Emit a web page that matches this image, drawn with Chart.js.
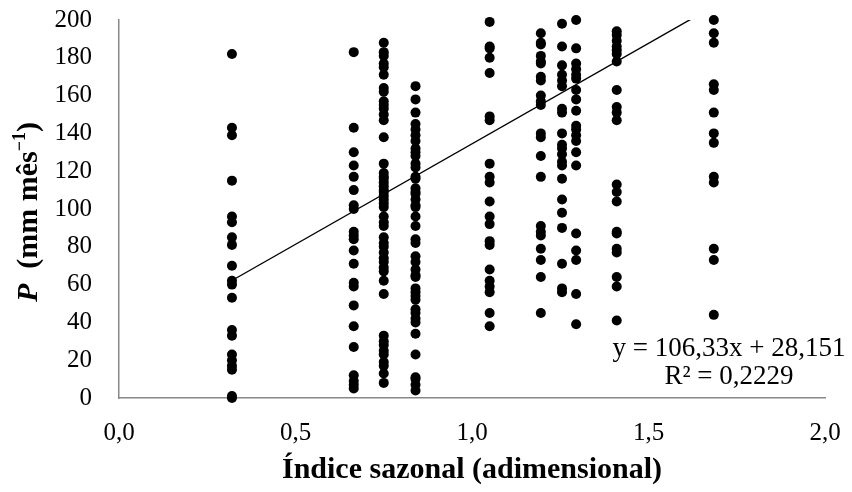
<!DOCTYPE html>
<html>
<head>
<meta charset="utf-8">
<script src="https://cdn.jsdelivr.net/npm/chart.js@4.4.1/dist/chart.umd.min.js"></script>
<style>
  body { margin: 0; background: #fff; }
  #wrap { width: 852px; height: 492px; }
</style>
</head>
<body>
<div id="wrap"><canvas id="chart"></canvas></div>
<script>
// seasonal index of each month group (x) and the rainfall values (P, mm/month) read at it
var colX = [0.32, 0.665, 0.75, 0.84, 1.05, 1.195, 1.255, 1.295, 1.41, 1.685];
var p032  = [182, 143, 139, 115, 96, 93, 85, 81, 70, 62, 60, 53, 36, 33, 23, 20, 17, 15, 1, 0];
var p0665 = [183, 143, 130, 123, 117, 110, 102, 100, 88, 86, 84, 78, 71, 61, 59, 49, 38, 27, 12, 9, 7, 5];
var p075  = [188, 183, 181, 177, 175, 171, 164, 162, 157, 155, 153, 150, 147, 138, 124, 119, 117, 116, 114, 112,
             110, 109, 107, 105, 103, 101, 96, 93, 91, 85, 82, 80, 77, 74, 72, 69, 67, 62, 55, 33, 30, 28, 25, 23,
             19, 17, 13, 8];
var p084  = [165, 158, 151, 145, 142, 139, 136, 132, 130, 128, 124, 122, 117, 116, 111, 109, 108, 105, 102, 101,
             96, 91, 84, 82, 75, 72, 68, 65, 64, 58, 56, 54, 52, 47, 45, 42, 40, 34, 23, 11, 10, 7, 4];
var p105  = [199, 186, 185, 180, 172, 149, 147, 124, 117, 114, 104, 96, 92, 83, 81, 68, 62, 59, 56, 45, 38];
var p1195 = [193, 188, 187, 181, 178, 177, 170, 168, 160, 157, 155, 140, 138, 128, 117, 91, 88, 86, 79, 73, 64, 45];
var p1255 = [198, 186, 176, 171, 168, 165, 153, 151, 140, 134, 132, 129, 125, 123, 116, 105, 98, 90, 71, 58, 56];
var p1295 = [200, 185, 177, 174, 171, 169, 163, 158, 152, 144, 142, 139, 136, 130, 123, 87, 78, 73, 55, 39];
var p141  = [194, 192, 189, 186, 184, 182, 178, 163, 154, 151, 147, 113, 109, 104, 88, 87, 79, 77, 64, 59, 41];
var p1685 = [200, 193, 188, 166, 163, 151, 140, 135, 117, 114, 79, 73, 44];
var colP = [p032, p0665, p075, p084, p105, p1195, p1255, p1295, p141, p1685];

// linear trend shown on the chart
var slope = 106.33, intercept = 28.151;
var eqText = ["y = 106,33x + 28,151", "R² = 0,2229"];

var xTicks = [0, 0.5, 1.0, 1.5, 2.0];
var yTicks = [0, 20, 40, 60, 80, 100, 120, 140, 160, 180, 200];

var points = [];
for (let i = 0; i < colX.length; i++) {
	colP[i].forEach(v => points.push({x: colX[i], y: v}));
}
var xMin = Math.min.apply(null, colX), xMax = Math.max.apply(null, colX);
var trend = [xMin, xMax].map(x => ({x: x, y: slope * x + intercept}));

const SERIF = '"Liberation Serif", "Times New Roman", serif';

// y title has an italic P and a superscript, so it's drawn by hand
const extraText = {
	id: 'extraText',
	afterDraw(chart) {
		const ctx = chart.ctx, area = chart.chartArea;
		ctx.save();
		ctx.fillStyle = '#000';
		ctx.textBaseline = 'middle';

		// equation of the trend line
		ctx.font = '27px ' + SERIF;
		ctx.textAlign = 'center';
		ctx.fillText(eqText[0], 729, 349);
		ctx.fillText(eqText[1], 729, 377);

		// y axis title
		const parts = [
			{t: 'P', f: 'italic bold 30px ' + SERIF, dy: 0},
			{t: '  (mm mês', f: 'bold 30px ' + SERIF, dy: 0},
			{t: '−1', f: 'bold 18px ' + SERIF, dy: -9},
			{t: ')', f: 'bold 30px ' + SERIF, dy: 0}
		];
		let total = 0;
		parts.forEach(p => { ctx.font = p.f; p.w = ctx.measureText(p.t).width; total += p.w; });
		ctx.translate(29, (area.top + area.bottom) / 2 + 3);
		ctx.rotate(-Math.PI / 2);
		ctx.textAlign = 'left';
		let x = -total / 2;
		parts.forEach(p => { ctx.font = p.f; ctx.fillText(p.t, x, p.dy); x += p.w; });
		ctx.restore();
	}
};

const ctxChart = document.getElementById('chart').getContext('2d');
const chart = new Chart(ctxChart, {
	type: 'scatter',
	data: {
		datasets: [
			{
				label: 'P',
				data: points,
				backgroundColor: '#000',
				borderWidth: 0,
				pointRadius: 5,
				clip: false,
				order: 2
			},
			{
				label: 'Linear',
				type: 'line',
				data: trend,
				borderColor: '#000',
				borderWidth: 1.4,
				pointRadius: 0,
				fill: false,
				clip: 0,
				order: 1
			}
		]
	},
	options: {
		responsive: true,
		maintainAspectRatio: false,
		animation: false,
		layout: {
			autoPadding: false,
			padding: {left: 0, right: 27, top: 20, bottom: 0}
		},
		plugins: {
			legend: { display: false },
			tooltip: { enabled: false }
		},
		scales: {
			x: {
				type: 'linear',
				min: 0,
				max: 2,
				afterBuildTicks: s => { s.ticks = xTicks.map(v => ({value: v})); },
				afterFit: s => { s.height = 94; },
				// hidden tick marks give the gap between axis and labels
				grid: { display: false, drawTicks: true, tickLength: 20 },
				border: { display: true, color: '#888', width: 1.5 },
				ticks: {
					padding: 0,
					color: '#000',
					font: { family: SERIF, size: 25 },
					callback: v => v.toFixed(1).replace('.', ',')
				},
				title: {
					display: true,
					text: 'Índice sazonal (adimensional)',
					color: '#000',
					font: { family: SERIF, size: 30, weight: 'bold' },
					padding: { top: 0, bottom: 4 }
				}
			},
			y: {
				min: 0,
				max: 200,
				afterBuildTicks: s => { s.ticks = yTicks.map(v => ({value: v})); },
				afterFit: s => { s.width = 119; },
				grid: { display: false, drawTicks: true, tickLength: 24 },
				border: { display: true, color: '#888', width: 1.5 },
				ticks: {
					padding: 3,
					color: '#000',
					font: { family: SERIF, size: 25 }
				}
			}
		}
	},
	plugins: [extraText]
});
</script>
</body>
</html>
